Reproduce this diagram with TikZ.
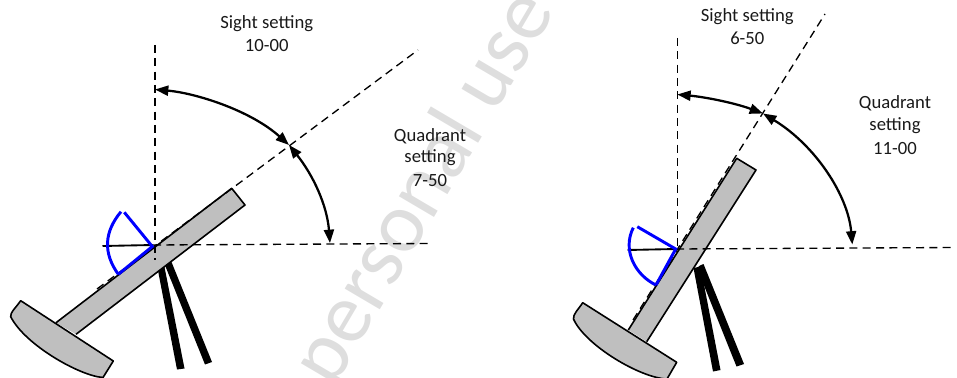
\documentclass[tikz,border=0pt]{standalone}
\usepackage{fontspec}
\setmainfont{Carlito}
\usetikzlibrary{arrows.meta}

\begin{document}
\begin{tikzpicture}[
  x=0.75pt, y=-0.75pt,
  font=\fontsize{14}{16}\selectfont,
  >={Triangle[length=10pt,width=7.5pt]},
  every node/.style={align=center},
  % Text labels
  lbl/.style={text=black!90, inner sep=0pt},
  wmark/.style={text=black!13, rotate=59.5, inner sep=0pt, font=\fontsize{64}{64}\selectfont},
  % Gun parts
  tube/.style={draw=black, fill=black!25, line width=1.2pt, line join=round},
  leg/.style={draw=none, fill=black},
  sector/.style={draw=blue, line width=2.2pt},
  levelline/.style={draw=black, line width=1.4pt},
  % Lines and arrows
  dline/.style={draw=black, line width=1pt, dash pattern=on 6pt off 4pt},
  harr/.style={<->, draw=black, line width=1.7pt},
]

\useasboundingbox (0,0) rectangle (957,378);
\clip (0,0) rectangle (957,378);

% -------------------------------------------------------
% Watermark
% -------------------------------------------------------
\node[wmark] (wm) at (425,188.5) {personal use};

% -------------------------------------------------------
% LEFT — Sight setting 10-00, Quadrant setting 7-50
% -------------------------------------------------------
\coordinate (pa)  at (153,245);
\coordinate (va0) at (155,45);
\coordinate (va1) at (155,260);
\coordinate (ha1) at (429,243.5);
\coordinate (da0) at (97,289);
\coordinate (da1) at (418,50);
\coordinate (sa)  at (155,89.5);
\coordinate (xa)  at (289,145);
\coordinate (qa)  at (330,243);

% Tripod legs
\fill[leg] (157.5,268) -- (164.5,267) -- (184.5,368.5) -- (177,369.5) -- cycle;
\fill[leg] (164.5,264) -- (171.5,262) -- (212,362) -- (205,364.5) -- cycle;

% Tube and base plate
\draw[tube] (56,322.7) -- (231.7,188.3) -- (245,205) -- (76,334.3);
\draw[tube] (20.7,300.7) -- (113.3,361) -- (103,377.5)
  .. controls (80,376) and (25,345) .. (10.7,316.7)
  .. controls (10.5,312) and (14,310) .. cycle;

% Dashed lines
\draw[dline] (va0) -- (va1);
\draw[dline] (pa) -- (ha1);
\draw[dline] (da0) -- (da1);

% Elevation sector
\draw[levelline] (102.5,246) -- (pa);
\draw[sector] (124.3,212.3) -- (152.3,246.5) -- (118.3,274.3);
\draw[sector] (118.3,274.3) .. controls (103,253) and (104,232) .. (121,211.7);

% Angle arrows
\draw[harr] (sa) .. controls (195,93) and (250,110) .. (xa);
\draw[harr] (qa) .. controls (327,205) and (313,175) .. (xa);

\node[lbl] (ssa) at (266.7,23.5) {Sight setting};
\node[lbl] (sva) at (266.7,46) {10-00};
\node[lbl] (qsa) at (430,136) {Quadrant};
\node[lbl] (qta) at (430,158) {setting};
\node[lbl] (qva) at (430,181) {7-50};

% -------------------------------------------------------
% RIGHT — Sight setting 6-50, Quadrant setting 11-00
% -------------------------------------------------------
\coordinate (pb)  at (676,249);
\coordinate (vb0) at (677.3,38);
\coordinate (vb1) at (677.3,249);
\coordinate (hb1) at (953,247.5);
\coordinate (db0) at (633,320);
\coordinate (db1) at (825,14);
\coordinate (sb)  at (677.3,94.5);
\coordinate (xb)  at (763,113.5);
\coordinate (qb)  at (852.3,244.5);

% Tripod legs
\fill[leg] (693.5,268) -- (700.5,266.5) -- (720.5,370) -- (713,371.5) -- cycle;
\fill[leg] (700,265.5) -- (703.5,264) -- (744,364) -- (736.5,366.5) -- (697,268) -- cycle;

% Tube and base plate
\draw[tube] (628.3,330) -- (736.7,158.3) -- (756,170) -- (646.7,341.7);
\draw[tube] (582.7,302.7) -- (676.7,362.3) -- (667,379)
  .. controls (640,378) and (585,345) .. (573.5,319)
  .. controls (573,314) and (578,310) .. cycle;

% Dashed lines
\draw[dline] (vb0) -- (vb1);
\draw[dline] (pb) -- (hb1);
\draw[dline] (db0) -- (db1);

% Elevation sector
\draw[levelline] (627.7,250) -- (pb);
\draw[sector] (637.3,226.7) -- (675.7,249) -- (656,285);
\draw[sector] (656,285) .. controls (635,275) and (622,250) .. (633.3,227.7);

% Angle arrows
\draw[harr] (sb) .. controls (705,97) and (735,103) .. (xb);
\draw[harr] (qb) .. controls (848,195) and (815,145) .. (xb);

\node[lbl] (ssb) at (747.3,16.7) {Sight setting};
\node[lbl] (svb) at (747.3,38.5) {6-50};
\node[lbl] (qsb) at (895,103.5) {Quadrant};
\node[lbl] (qtb) at (895,126) {setting};
\node[lbl] (qvb) at (895,149) {11-00};

\end{tikzpicture}
\end{document}
